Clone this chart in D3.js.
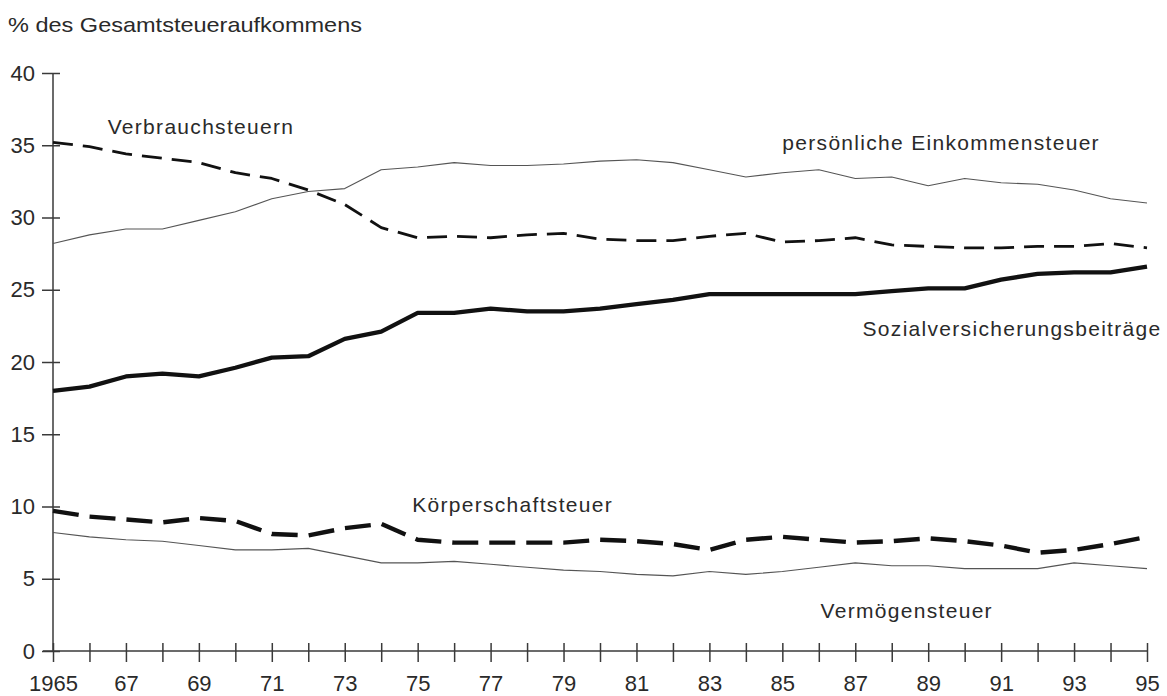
<!DOCTYPE html>
<html><head><meta charset="utf-8">
<script src="https://cdn.jsdelivr.net/npm/d3@7/dist/d3.min.js"></script>
<style>
html,body{margin:0;padding:0;background:#fff;}
svg{display:block;font-family:"Liberation Sans",Arial,sans-serif;}
</style></head>
<body>
<svg id="c" width="1167" height="696"></svg>
<script>
const years = d3.range(1965, 1996);
const yTicks = [0, 5, 10, 15, 20, 25, 30, 35, 40];
const xTickLabels = ["1965","67","69","71","73","75","77","79","81","83","85","87","89","91","93","95"];

const einkommensteuer = [28.2, 28.8, 29.2, 29.2, 29.8, 30.4, 31.3, 31.8, 32.0, 33.3, 33.5, 33.8, 33.6, 33.6, 33.7, 33.9, 34.0, 33.8, 33.3, 32.8, 33.1, 33.3, 32.7, 32.8, 32.2, 32.7, 32.4, 32.3, 31.9, 31.3, 31.0];
const verbrauchsteuern = [35.2, 34.9, 34.4, 34.1, 33.8, 33.1, 32.7, 31.9, 30.9, 29.3, 28.6, 28.7, 28.6, 28.8, 28.9, 28.5, 28.4, 28.4, 28.7, 28.9, 28.3, 28.4, 28.6, 28.1, 28.0, 27.9, 27.9, 28.0, 28.0, 28.2, 27.9];
const sozialversicherung = [18.0, 18.3, 19.0, 19.2, 19.0, 19.6, 20.3, 20.4, 21.6, 22.1, 23.4, 23.4, 23.7, 23.5, 23.5, 23.7, 24.0, 24.3, 24.7, 24.7, 24.7, 24.7, 24.7, 24.9, 25.1, 25.1, 25.7, 26.1, 26.2, 26.2, 26.6];
const koerperschaftsteuer = [9.7, 9.3, 9.1, 8.9, 9.2, 9.0, 8.1, 8.0, 8.5, 8.8, 7.7, 7.5, 7.5, 7.5, 7.5, 7.7, 7.6, 7.4, 7.0, 7.7, 7.9, 7.7, 7.5, 7.6, 7.8, 7.6, 7.3, 6.8, 7.0, 7.4, 7.9];
const vermoegensteuer = [8.2, 7.9, 7.7, 7.6, 7.3, 7.0, 7.0, 7.1, 6.6, 6.1, 6.1, 6.2, 6.0, 5.8, 5.6, 5.5, 5.3, 5.2, 5.5, 5.3, 5.5, 5.8, 6.1, 5.9, 5.9, 5.7, 5.7, 5.7, 6.1, 5.9, 5.7];

const svg = d3.select("#c");
const margin = {left: 53, right: 20, top: 73, bottom: 45};
const W = 1167, H = 696;
const x = d3.scaleLinear().domain([1965, 1995]).range([margin.left, W - margin.right]);
const y = d3.scaleLinear().domain([0, 40]).range([H - margin.bottom, margin.top]);

const ink = "#2a2a2a";
const axisInk = "#3a3a3a";

// title
svg.append("text").attr("x", 8).attr("y", 32).attr("font-size", 21).attr("fill", ink)
  .attr("textLength", 354).attr("lengthAdjust", "spacingAndGlyphs")
  .text("% des Gesamtsteueraufkommens");

// y axis
const yAxis = svg.append("g").attr("transform", `translate(${x(1965)},0)`)
  .call(d3.axisLeft(y).tickValues(yTicks).tickSize(11).tickPadding(7).tickFormat(d3.format("d")));
yAxis.select(".domain").attr("stroke", axisInk).attr("stroke-width", 1.5).attr("d", `M0,${y(0)}V${y(40)}`);
yAxis.selectAll(".tick line").attr("stroke", axisInk).attr("stroke-width", 1.5).attr("x2", 7).attr("x1", -11);
yAxis.selectAll(".tick text").attr("font-size", 22).attr("fill", ink).attr("font-family", "Liberation Sans, Arial, sans-serif");

// x axis
const xAxis = svg.append("g").attr("transform", `translate(0,${y(0)})`)
  .call(d3.axisBottom(x).tickValues(years).tickSize(11).tickPadding(13)
    .tickFormat(d => { const i = (d - 1965) / 2; return Number.isInteger(i) ? xTickLabels[i] : ""; }));
xAxis.select(".domain").attr("stroke", axisInk).attr("stroke-width", 1.5).attr("d", `M${x(1965) - 10},0H${x(1995) + 1}`);
xAxis.selectAll(".tick line").attr("stroke", axisInk).attr("stroke-width", 1.5).attr("y1", -8).attr("y2", 11);
xAxis.selectAll(".tick text").attr("font-size", 22).attr("fill", ink).attr("font-family", "Liberation Sans, Arial, sans-serif");

const line = d3.line().x((d, i) => x(years[i])).y(d => y(d));

const series = [
  {data: einkommensteuer, w: 1.1, dash: null, color: "#555"},
  {data: verbrauchsteuern, w: 2.8, dash: "20,10", color: "#111"},
  {data: sozialversicherung, w: 4.3, dash: null, color: "#111"},
  {data: koerperschaftsteuer, w: 4.4, dash: "26,11", color: "#111"},
  {data: vermoegensteuer, w: 1.1, dash: null, color: "#555"}
];
series.forEach(s => {
  svg.append("path").attr("d", line(s.data)).attr("fill", "none")
    .attr("stroke", s.color).attr("stroke-width", s.w)
    .attr("stroke-dasharray", s.dash).attr("stroke-linejoin", "round");
});

const labels = [
  {t: "Verbrauchsteuern", year: 1966.5, v: 35.8},
  {t: "persönliche Einkommensteuer", year: 1985.0, v: 34.7},
  {t: "Sozialversicherungsbeiträge", year: 1987.2, v: 21.8},
  {t: "Körperschaftsteuer", year: 1974.85, v: 9.65},
  {t: "Vermögensteuer", year: 1986.05, v: 2.3}
];
labels.forEach(l => {
  svg.append("text").attr("x", x(l.year)).attr("y", y(l.v)).attr("font-size", 21)
    .attr("letter-spacing", 1.3).attr("fill", ink).text(l.t);
});
</script>
</body></html>
